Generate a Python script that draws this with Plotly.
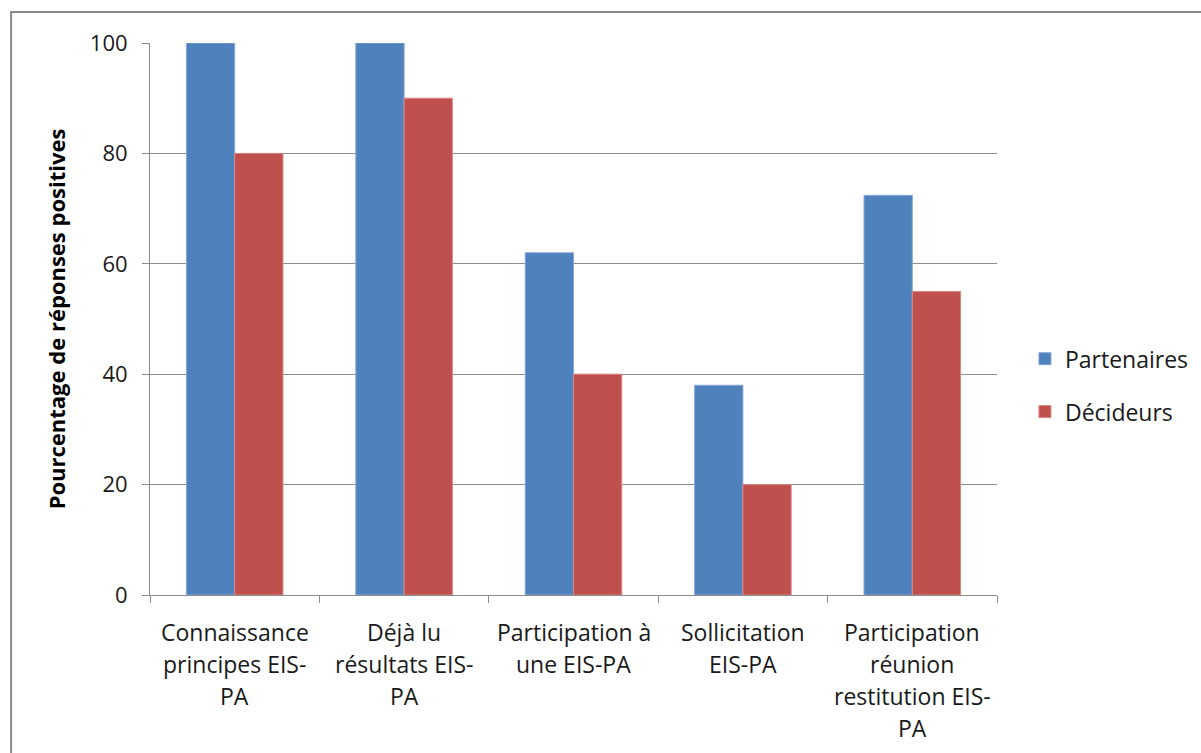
import plotly.graph_objects as go

# Survey categories, one list of text lines per category
category_lines = [
    ["Connaissance", "principes EIS-", "PA"],
    ["Déjà lu", "résultats EIS-", "PA"],
    ["Participation à", "une EIS-PA"],
    ["Sollicitation", "EIS-PA"],
    ["Participation", "réunion", "restitution EIS-", "PA"],
]
categories = [" ".join(lines) for lines in category_lines]

# Percentage of positive answers per respondent group
partenaires = [100, 100, 62, 38, 72.4]
decideurs = [80, 90, 40, 20, 55]

y_ticks = [0, 20, 40, 60, 80, 100]

FONT = "Open Sans"
TEXT = "#1a1a1a"
GRID = "#8c8c8c"

fig = go.Figure()
fig.add_trace(go.Bar(
    x=categories, y=partenaires, name="Partenaires",
    marker=dict(color="#4F81BD", line=dict(color="#86A7D6", width=1)),
    legendgroup="p",
))
fig.add_trace(go.Bar(
    x=categories, y=decideurs, name="Décideurs",
    marker=dict(color="#C0504D", line=dict(color="#D98784", width=1)),
    legendgroup="d",
))

# Multi-line category labels under the axis
line_gap = 32
for cat, lines in zip(categories, category_lines):
    for i, txt in enumerate(lines):
        fig.add_annotation(
            x=cat, xref="x", y=0, yref="paper",
            text=txt, showarrow=False,
            xanchor="center", yanchor="middle",
            yshift=-(37 + line_gap * i),
            font=dict(family=FONT, size=23, color=TEXT),
        )

# Outer chart frame
fig.add_shape(
    type="rect", xref="paper", yref="paper",
    x0=-0.164, x1=1.4, y0=-0.6, y1=1.056,
    line=dict(color="#8a8a8a", width=2), fillcolor="rgba(0,0,0,0)",
    layer="below",
)

fig.update_layout(
    width=1201, height=753,
    margin=dict(l=150, r=204, t=43, b=158, autoexpand=False),
    paper_bgcolor="white", plot_bgcolor="white",
    barmode="group", bargap=0.43, bargroupgap=0,
    font=dict(family=FONT, size=22, color=TEXT),
    showlegend=True,
    legend=dict(
        x=1.033, y=0.38, xanchor="left", yanchor="middle",
        font=dict(family=FONT, size=23, color=TEXT),
        traceorder="grouped", tracegroupgap=20,
        bgcolor="rgba(0,0,0,0)",
    ),
    xaxis=dict(
        type="category",
        showticklabels=False,
        showline=True, linecolor=GRID, linewidth=1,
        ticks="outside", tickson="boundaries", ticklen=7,
        tickcolor=GRID, showgrid=False,
        range=[-0.5, 4.5],
    ),
    yaxis=dict(
        range=[0, 100], tickvals=y_ticks,
        showline=True, linecolor=GRID, linewidth=1,
        ticks="outside", ticklen=7, tickcolor=GRID,
        showgrid=True, gridcolor=GRID, gridwidth=1,
        zeroline=False,
        ticklabelstandoff=10,
        tickfont=dict(family=FONT, size=22, color=TEXT),
        title=dict(
            text="<b>Pourcentage de réponses positives</b>",
            font=dict(family=FONT, size=22, color="black"),
            standoff=18,
        ),
    ),
)

fig.write_html("out.html")
